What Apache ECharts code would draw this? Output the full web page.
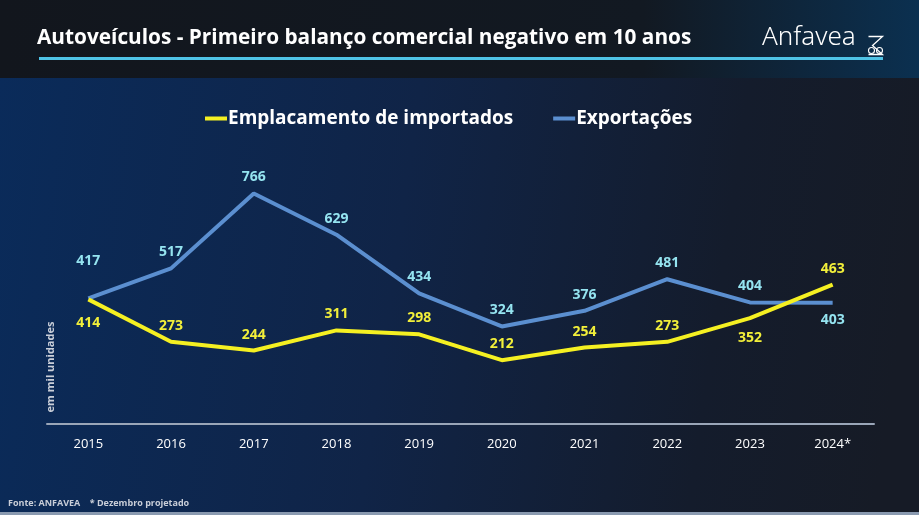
<!DOCTYPE html>
<html><head><meta charset="utf-8">
<script src="https://cdn.jsdelivr.net/npm/echarts@6/dist/echarts.min.js"></script>
<style>html,body{margin:0;padding:0;background:#121820;}#c{width:919px;height:515px;}</style>
</head><body><div id="c"></div>
<script>
const categories = ['2015','2016','2017','2018','2019','2020','2021','2022','2023','2024*'];
const importados = [414,273,244,311,298,212,254,273,352,463];
const exportacoes = [417,517,766,629,434,324,376,481,404,403];
const yMin = 0, yMax = 1000;

const importLabelPos = ['bottom','top','top','top','top','top','top','top','bottom','top'];
const importLabelDist = [17,9,9,9,9,9,9,9,13,9];
const exportLabelPos = ['top','top','top','top','top','top','top','top','top','bottom'];
const exportLabelDist = [30,9,9,9,9,9,9,9,9,10];

const FONT = '"Open Sans", "Noto Sans", sans-serif';
const chart = echarts.init(document.getElementById('c'));

function mk(vals, pos, dist, color){
  return vals.map((v,i)=>({value:v,label:{show:true,position:pos[i],distance:dist[i],color:color}}));
}

chart.setOption({
  animation:false,
  graphic:[
    {type:'rect',silent:true,z:-10,shape:{x:0,y:78,width:919,height:437},
     style:{fill:new echarts.graphic.LinearGradient(0,0,1,0.3,[
       {offset:0,color:'#0a2b5a'},{offset:0.45,color:'#102447'},{offset:0.8,color:'#141c2c'},{offset:1,color:'#161b26'}])}},
    {type:'rect',silent:true,z:-10,shape:{x:0,y:0,width:919,height:78},
     style:{fill:new echarts.graphic.LinearGradient(0,0,1,0,[
       {offset:0,color:'#12161d'},{offset:0.7,color:'#121922'},{offset:1,color:'#0b3050'}])}},
    {type:'rect',silent:true,z:-9,shape:{x:0,y:512,width:919,height:3},style:{fill:'#8a9ab0'}},
    {type:'rect',silent:true,shape:{x:39,y:57,width:844,height:3},style:{fill:'#4fc3e6'}},
    {type:'text',silent:true,left:37,top:28,style:{text:'Autoveículos - Primeiro balanço comercial negativo em 10 anos',
      fill:'#ffffff',font:'bold 20.8px '+FONT}},
    {type:'text',silent:true,left:762,top:25,style:{text:'Anfavea',fill:'#ffffff',font:'300 26px "Noto Sans", sans-serif'}},
    {type:'group',left:866,top:34,silent:true,children:[
      {type:'polyline',shape:{points:[[0,0],[14,0],[4,9],[14,18],[0,18]]},style:{stroke:'#ffffff',fill:null,lineWidth:1.3}},
      {type:'circle',shape:{cx:3,cy:14,r:3},style:{stroke:'#ffffff',fill:null,lineWidth:1.1}},
      {type:'circle',shape:{cx:11,cy:14,r:3},style:{stroke:'#ffffff',fill:null,lineWidth:1.1}}
    ]},
    {type:'text',silent:true,x:51,y:367,rotation:Math.PI/2,
      style:{text:'em mil unidades',fill:'#c9ced8',font:'bold 11px '+FONT,align:'center',verticalAlign:'middle'}},
    {type:'text',silent:true,left:8,top:499,style:{text:'Fonte: ANFAVEA    * Dezembro projetado',fill:'#c9ced8',font:'bold 9px '+FONT}}
  ],
  legend:{
    top:104,left:200,itemGap:40,itemWidth:22,itemHeight:4,
    icon:'rect',
    textStyle:{color:'#ffffff',fontSize:19,fontWeight:'bold',fontFamily:FONT,padding:[0,0,0,-4]},
    data:['Emplacamento de importados','Exportações']
  },
  grid:{left:47,right:45,top:123,height:301,containLabel:false},
  xAxis:{type:'category',data:categories,boundaryGap:true,
    axisLine:{lineStyle:{color:'#9aa6b8',width:2}},axisTick:{show:false},
    axisLabel:{color:'#ffffff',fontSize:13,fontFamily:FONT,margin:14}},
  yAxis:{type:'value',min:yMin,max:yMax,show:false,splitLine:{show:false}},
  series:[
    {name:'Emplacamento de importados',type:'line',data:mk(importados,importLabelPos,importLabelDist,'#f2ef3a'),
     symbol:'circle',symbolSize:0,showSymbol:true,lineStyle:{color:'#f5f022',width:4},itemStyle:{color:'#f5f022'},z:3,
     label:{show:true,fontSize:14,fontWeight:'bold',fontFamily:FONT}},
    {name:'Exportações',type:'line',data:mk(exportacoes,exportLabelPos,exportLabelDist,'#95e4f0'),
     symbol:'circle',symbolSize:0,showSymbol:true,lineStyle:{color:'#5b8fd0',width:4},itemStyle:{color:'#5b8fd0'},z:2,
     label:{show:true,fontSize:14,fontWeight:'bold',fontFamily:FONT}}
  ]
});
</script></body></html>
